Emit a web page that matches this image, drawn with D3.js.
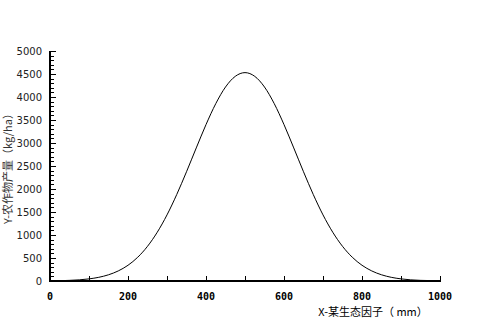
<!DOCTYPE html>
<html>
<head>
<meta charset="utf-8">
<script src="https://d3js.org/d3.v7.min.js"></script>
<style>
  body { margin: 0; background: #fff; }
  svg { display: block; }
</style>
</head>
<body>
<div class="container"></div>
<script>
// factor values (mm) and crop yield (kg/ha)
var factorMm = [40, 50, 75, 100, 125, 150, 175, 200, 225, 250, 275, 300, 325, 350, 375, 400, 425, 450, 475,
  500, 525, 550, 575, 600, 625, 650, 675, 700, 725, 750, 775, 800, 825, 850, 875, 900, 925, 950, 970];
var yieldKg = [11, 14, 25, 46, 80, 135, 219, 342, 517, 754, 1060, 1437, 1881, 2375, 2893, 3400, 3855, 4217, 4449,
  4530, 4449, 4217, 3855, 3400, 2893, 2375, 1881, 1437, 1060, 754, 517, 342, 219, 135, 80, 46, 25, 14, 10];
var xTicks = [0, 200, 400, 600, 800, 1000];
var yTicks = [0, 500, 1000, 1500, 2000, 2500, 3000, 3500, 4000, 4500, 5000];

var W = 480, H = 320;
var padL = 50, padR = 440, padT = 51, padB = 281;

var svg = d3.select('.container').append('svg')
  .attr('width', W)
  .attr('height', H);

var x = d3.scaleLinear().domain([0, 1000]).range([padL, padR]);
var y = d3.scaleLinear().domain([0, 5000]).range([padB, padT]);

// y axis: minor ticks every 100, major every 500
var yMinor = d3.range(0, 5001, 100);
svg.append('g').selectAll('line').data(yMinor).enter().append('line')
  .attr('x1', padL)
  .attr('x2', function(d) { return d % 500 === 0 ? padL + 6 : padL + 4; })
  .attr('y1', function(d) { return Math.round(y(d)) + 0.5; })
  .attr('y2', function(d) { return Math.round(y(d)) + 0.5; })
  .attr('stroke', '#000').attr('stroke-width', 1);

svg.append('line')
  .attr('x1', padL).attr('x2', padL)
  .attr('y1', padT).attr('y2', padB + 1)
  .attr('stroke', '#000').attr('stroke-width', 2);

svg.append('g').selectAll('text').data(yTicks).enter().append('text')
  .attr('x', padL - 8)
  .attr('y', function(d) { return y(d) + 4; })
  .attr('text-anchor', 'end')
  .attr('font-family', 'DejaVu Sans')
  .attr('font-size', 10)
  .attr('fill', '#222')
  .text(function(d) { return d; });

// x axis: ticks every 100 pointing up
var xMinor = d3.range(0, 1001, 100);
svg.append('g').selectAll('line').data(xMinor).enter().append('line')
  .attr('x1', function(d) { return Math.round(x(d)) + 0.5; })
  .attr('x2', function(d) { return Math.round(x(d)) + 0.5; })
  .attr('y1', padB)
  .attr('y2', padB - 5)
  .attr('stroke', '#000').attr('stroke-width', 1);

svg.append('line')
  .attr('x1', padL - 1).attr('x2', padR + 1)
  .attr('y1', padB).attr('y2', padB)
  .attr('stroke', '#000').attr('stroke-width', 2);

svg.append('g').selectAll('text').data(xTicks).enter().append('text')
  .attr('x', function(d) { return x(d); })
  .attr('y', 300)
  .attr('text-anchor', 'middle')
  .attr('font-family', 'DejaVu Sans Mono')
  .attr('font-weight', 'bold')
  .attr('font-size', 10)
  .attr('fill', '#000')
  .text(function(d) { return d; });

// curve
var pts = factorMm.map(function(d, i) { return [d, yieldKg[i]]; });
var line = d3.line()
  .x(function(d) { return x(d[0]); })
  .y(function(d) { return y(d[1]); })
  .curve(d3.curveMonotoneX);

svg.append('path')
  .datum(pts)
  .attr('d', line)
  .attr('fill', 'none')
  .attr('stroke', '#000')
  .attr('stroke-width', 1);

// axis titles
svg.append('text')
  .attr('x', 373)
  .attr('y', 316)
  .attr('text-anchor', 'middle')
  .attr('font-family', 'Noto Sans CJK SC')
  .attr('font-size', 11)
  .attr('fill', '#000')
  .text('X-某生态因子（ mm）');

svg.append('text')
  .attr('transform', 'translate(12,166) rotate(-90)')
  .attr('text-anchor', 'middle')
  .attr('font-family', 'Noto Sans CJK SC')
  .attr('font-size', 11)
  .attr('fill', '#333')
  .text('Y-农作物产量（kg/ha）');
</script>
</body>
</html>
